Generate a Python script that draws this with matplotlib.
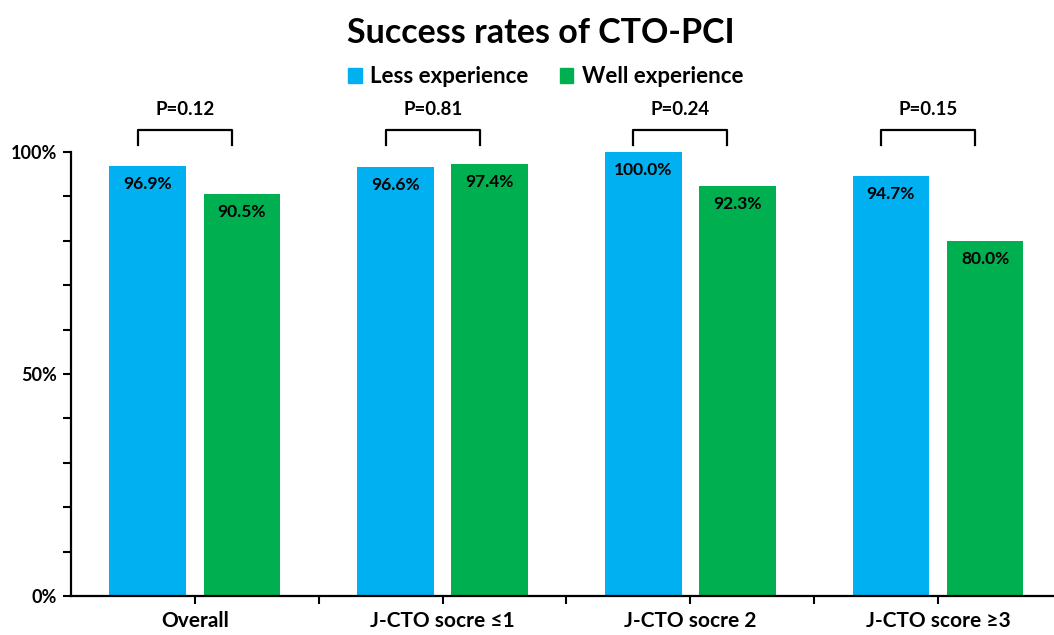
import matplotlib.pyplot as plt
from matplotlib.patches import Patch
import numpy as np

plt.rcParams['font.family'] = ['Lato', 'DejaVu Sans']

categories = ["Overall", "J-CTO socre \u22641", "J-CTO socre 2", "J-CTO score \u22653"]
less_exp = [96.9, 96.6, 100.0, 94.7]
well_exp = [90.5, 97.4, 92.3, 80.0]
p_values = ["P=0.12", "P=0.81", "P=0.24", "P=0.15"]

blue = "#00B0F0"
green = "#00B050"

fig = plt.figure(figsize=(10.54, 6.35), dpi=100)
ax = fig.add_axes([0.0674, 0.0614, 0.94, 0.6992])

x = np.arange(len(categories))
w = 0.31
off = 0.19
ax.bar(x - off, less_exp, w, color=blue)
ax.bar(x + off, well_exp, w, color=green)

# value labels inside the bars
for xi, v in zip(x - off, less_exp):
    ax.annotate(f"{v:.1f}%", (xi, v), xytext=(0, -13), textcoords="offset points",
                ha="center", va="center", fontsize=12.5, fontweight="bold")
for xi, v in zip(x + off, well_exp):
    ax.annotate(f"{v:.1f}%", (xi, v), xytext=(0, -13), textcoords="offset points",
                ha="center", va="center", fontsize=12.5, fontweight="bold")

# p-value brackets
for xi, p in zip(x, p_values):
    x0, x1 = xi - off - 0.04, xi + off - 0.04
    ax.plot([x0, x0, x1, x1], [101.6, 105, 105, 101.6], color="black", lw=1.6, clip_on=False)
    ax.text((x0 + x1) / 2, 109.5, p, ha="center", va="center", fontsize=13.5, fontweight="bold")

ax.set_xlim(-0.5, 3.47)
ax.set_ylim(0, 100)
ax.set_yticks([0, 50, 100])
ax.set_yticklabels(["0%", "50%", "100%"], fontsize=13, fontweight="bold")
ax.set_yticks(np.arange(0, 101, 10), minor=True)
ax.set_xticks(x)
ax.set_xticklabels(categories, fontsize=15, fontweight="bold")
ax.set_xticks(x + 0.5, minor=True)
ax.tick_params(axis="both", which="both", direction="out", width=1.5, length=6, color="black")
ax.tick_params(axis="x", pad=5)
ax.tick_params(axis="y", pad=4)
for s in ["top", "right"]:
    ax.spines[s].set_visible(False)
for s in ["left", "bottom"]:
    ax.spines[s].set_linewidth(1.6)

fig.text(0.513, 0.948, "Success rates of CTO-PCI", ha="center", va="center",
         fontsize=24.5, fontweight="bold")

handles = [Patch(color=blue, label="Less experience"), Patch(color=green, label="Well experience")]
fig.legend(handles=handles, loc="center", bbox_to_anchor=(0.518, 0.879), ncol=2, frameon=False,
           prop={"size": 16, "weight": "bold"}, handlelength=0.6, handleheight=0.6,
           handletextpad=0.4, columnspacing=1.4)

fig.savefig("out.png", dpi=100)
